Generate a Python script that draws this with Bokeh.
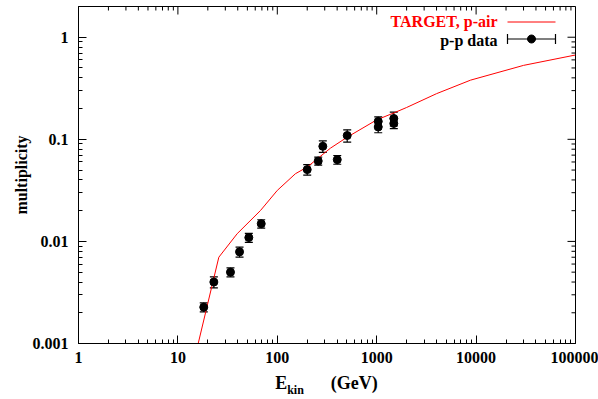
import math
from bokeh.plotting import figure
from bokeh.models import (ColumnDataSource, Whisker, TeeHead, FixedTicker,
                          CustomJSTickFormatter, Label, Arrow, PolyAnnotation, Div)
from bokeh.layouts import column
from bokeh.embed import file_html
from bokeh.resources import INLINE

# ---- data ----
x_ticks = [1, 10, 100, 1000, 10000, 100000]
y_ticks = [0.001, 0.01, 0.1, 1]

model_E = [16, 25.8, 39.5, 67.8, 100, 152, 200, 343, 505, 1000, 1500, 2000, 4000, 8800, 30000, 100000]
model_mult = [0.001, 0.0070, 0.0119, 0.0201, 0.0316, 0.046, 0.0535, 0.082, 0.105, 0.155, 0.182,
              0.205, 0.28, 0.38, 0.53, 0.67]

data_E = [18.2, 23.0, 33.8, 41.7, 51.7, 68.9, 200, 258, 287, 401, 505, 1036, 1036, 1486, 1486]
data_mult = [0.00227, 0.0040, 0.0050, 0.0079, 0.0109, 0.0149, 0.0505, 0.0613, 0.0854,
             0.0632, 0.109, 0.150, 0.132, 0.160, 0.143]
data_err = [0.00023, 0.0005, 0.0005, 0.0009, 0.0011, 0.0014, 0.006, 0.0055, 0.011,
            0.0062, 0.015, 0.016, 0.016, 0.025, 0.016]

FONT = "Liberation Serif"
X_RANGE = (1, 100000)
Y_RANGE = (0.001, 2)

W, H = 598, 373
BL, BR, BT, BB = 78, 23, 6, 30
p = figure(width=W, height=H, x_axis_type="log", y_axis_type="log",
           x_range=X_RANGE, y_range=Y_RANGE,
           output_backend="svg", toolbar_location=None,
           min_border_left=BL, min_border_right=BR, min_border_top=BT, min_border_bottom=BB)
p.background_fill_color = "white"
p.border_fill_color = "white"
p.outline_line_color = "black"
p.outline_line_width = 1
p.xgrid.visible = False
p.ygrid.visible = False

def minor_list(ticks):
    out = []
    for t in ticks:
        for m in range(2, 10):
            out.append(t * m)
    return out

x_minor = minor_list(x_ticks[:-1])
y_minor = [v for v in minor_list(y_ticks) if v <= Y_RANGE[1]]
xt = FixedTicker(ticks=x_ticks, minor_ticks=x_minor)
yt = FixedTicker(ticks=y_ticks, minor_ticks=y_minor)
fmt = CustomJSTickFormatter(code="return tick.toString();")

MAJ, MIN = 8, 4
for ax, tk, so in ((p.xaxis[0], xt, 8), (p.yaxis[0], yt, 10)):
    ax.ticker = tk
    ax.formatter = fmt
    ax.major_tick_in = MAJ
    ax.major_tick_out = 0
    ax.minor_tick_in = MIN
    ax.minor_tick_out = 0
    ax.major_label_text_font = FONT
    ax.major_label_text_font_style = "bold"
    ax.major_label_text_font_size = "16px"
    ax.major_label_text_color = "black"
    ax.major_label_standoff = so
    ax.axis_line_color = "black"

p.yaxis.axis_label = "multiplicity"
p.yaxis.axis_label_text_font = FONT
p.yaxis.axis_label_text_font_style = "bold"
p.yaxis.axis_label_text_font_size = "16px"
p.yaxis.axis_label_text_color = "black"
p.yaxis.axis_label_standoff = 0

# mirrored ticks on the top and right edges of the frame
fw = W - BL - BR
fh = H - BT - BB
dpx = fw / (math.log10(X_RANGE[1]) - math.log10(X_RANGE[0]))
dpy = fh / (math.log10(Y_RANGE[1]) - math.log10(Y_RANGE[0]))
for ticks, ln in ((x_ticks, MAJ), (x_minor, MIN)):
    p.segment(x0=ticks, x1=ticks, y0=[Y_RANGE[1]] * len(ticks),
              y1=[Y_RANGE[1] * 10 ** (-ln / dpy)] * len(ticks), line_color="black", line_width=1)
for ticks, ln in ((y_ticks, MAJ), (y_minor, MIN)):
    p.segment(y0=ticks, y1=ticks, x0=[X_RANGE[1]] * len(ticks),
              x1=[X_RANGE[1] * 10 ** (-ln / dpx)] * len(ticks), line_color="black", line_width=1)

# model curve
p.line(model_E, model_mult, line_color="#ff0000", line_width=1)

# data with error bars
src = ColumnDataSource(dict(
    x=data_E, y=data_mult,
    lo=[m - e for m, e in zip(data_mult, data_err)],
    hi=[m + e for m, e in zip(data_mult, data_err)],
))
w = Whisker(base="x", upper="hi", lower="lo", source=src, dimension="height",
            line_color="black", line_width=1.2,
            upper_head=TeeHead(size=8, line_color="black", line_width=1.2),
            lower_head=TeeHead(size=8, line_color="black", line_width=1.2))
p.add_layout(w)
p.scatter("x", "y", source=src, size=8, fill_color="black", line_color="black")

# legend (gnuplot style: text left of the sample); screen units relative to the frame
def lab(text, x, y, size, color="black", align="right"):
    return Label(x=x, y=y, x_units="screen", y_units="screen", text=text,
                 text_font=FONT, text_font_style="bold", text_font_size=size,
                 text_color=color, text_align=align, text_baseline="middle")

p.add_layout(lab("TARGET, p-air", 419, 322, "16px", color="#ff0000"))
p.add_layout(Arrow(x_start=429, y_start=321.5, x_end=477, y_end=321.5,
                   start_units="screen", end_units="screen", end=None,
                   line_color="#ff0000", line_width=1))
p.add_layout(lab("p-p data", 419, 303, "16px"))
p.add_layout(Arrow(x_start=429, y_start=304.5, x_end=477, y_end=304.5,
                   start_units="screen", end_units="screen",
                   start=TeeHead(size=10, line_color="black", line_width=1.2),
                   end=TeeHead(size=10, line_color="black", line_width=1.2),
                   line_color="black", line_width=1.2))
cx, cy, r = 453, 304.5, 4
p.add_layout(PolyAnnotation(
    xs=[cx + r * math.cos(2 * math.pi * k / 16) for k in range(16)],
    ys=[cy + r * math.sin(2 * math.pi * k / 16) for k in range(16)],
    xs_units="screen", ys_units="screen",
    fill_color="black", fill_alpha=1, line_color="black", line_alpha=1))

# x axis title with subscript
xlabel = Div(
    text="E<sub style='font-size:12px'>kin</sub>&nbsp;&nbsp;&nbsp;&nbsp;&nbsp;&nbsp;(GeV)",
    width=fw, height=399 - H, margin=(0, 0, 0, BL),
    styles={"text-align": "center", "font-family": FONT, "font-weight": "bold",
            "font-size": "18px", "color": "black", "line-height": "20px"})

open("out.html", "w").write(file_html(column(p, xlabel, spacing=0), INLINE))
